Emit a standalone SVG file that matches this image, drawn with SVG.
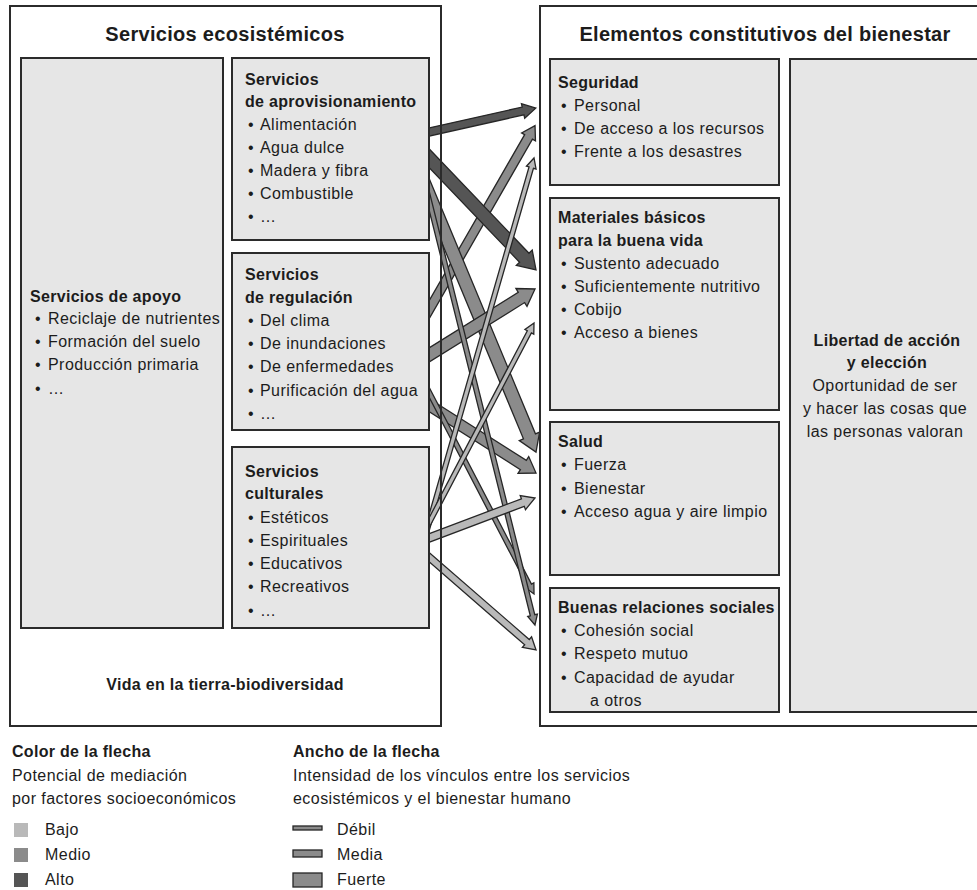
<svg xmlns="http://www.w3.org/2000/svg" width="977" height="890" viewBox="0 0 977 890">
  <style>
    text { font-family: "Liberation Sans", Arial, sans-serif; font-size: 16px; fill: #1c1c1c; letter-spacing: 0.45px; }
    .b { font-weight: bold; letter-spacing: 0.3px; }
    .title { font-size: 20px; font-weight: bold; text-anchor: middle; letter-spacing: 0.3px; }
    .mid { text-anchor: middle; }
    .outer { fill: none; stroke: #2b2b2b; stroke-width: 2; }
    .inner { fill: #e6e6e6; stroke: #2b2b2b; stroke-width: 2; }
    .arrow { stroke: #262626; stroke-width: 1.3; stroke-linejoin: miter; }
    .low { fill: #b9b9b9; }
    .medium { fill: #8b8b8b; }
    .high { fill: #555555; }
  </style>
  <rect width="977" height="890" fill="#ffffff"/>

  <!-- links: colour = socio-economic mediation, width = intensity -->
  <g id="connectors">
    <path id="reg-seg" class="arrow medium" d="M-25,-4.5H199.7V-8L212.7,0L199.7,8V4.5H-25Z" transform="translate(429 310) rotate(-60.1)"/>
    <path id="prov-salud" class="arrow medium" d="M-25,-6.5H261.4V-11L278.4,0L261.4,11V6.5H-25Z" transform="translate(429 195) rotate(67.4)"/>
    <path id="reg-mat" class="arrow medium" d="M-25,-6H108.9V-10.5L124.9,0L108.9,10.5V6H-25Z" transform="translate(429 355) rotate(-31.9)"/>
    <path id="reg-salud" class="arrow medium" d="M-25,-5.5H111.8V-10L126.8,0L111.8,10V5.5H-25Z" transform="translate(429 405) rotate(32.44)"/>
    <path id="reg-rel" class="arrow medium" d="M-25,-2.3H217.7V-5L227.7,0L217.7,5V2.3H-25Z" transform="translate(429 392) rotate(62.53)"/>
    <path id="prov-rel" class="arrow medium" d="M-25,-2.3H428V-5L438,0L428,5V2.3H-25Z" transform="translate(429 200) rotate(76)"/>
    <path id="prov-seg" class="arrow high" d="M-25,-4H96.4V-7.5L109.4,0L96.4,7.5V4H-25Z" transform="translate(429 132) rotate(-12.6)"/>
    <path id="prov-mat" class="arrow high" d="M-25,-6.5H137.9V-11L154.9,0L137.9,11V6.5H-25Z" transform="translate(429 158) rotate(46.3)"/>
    <path id="cult-seg" class="arrow low" d="M-25,-2.3H369.8V-5L379.8,0L369.8,5V2.3H-25Z" transform="translate(429 523) rotate(-73.95)"/>
    <path id="cult-mat" class="arrow low" d="M-25,-2.3H215.9V-5L225.9,0L215.9,5V2.3H-25Z" transform="translate(429 523) rotate(-62.3)"/>
    <path id="cult-salud" class="arrow low" d="M-25,-4H100.3V-7.5L113.3,0L100.3,7.5V4H-25Z" transform="translate(429 538) rotate(-20.67)"/>
    <path id="cult-rel" class="arrow low" d="M-25,-3.5H129.8V-7L141.8,0L129.8,7V3.5H-25Z" transform="translate(429 557) rotate(40.99)"/>
  </g>

  <!-- ecosystem services -->
  <g id="apoyo">
    <rect class="inner" x="21" y="58" width="202" height="570"/>
    <text class="b" x="30" y="302">Servicios de apoyo</text>
    <text y="324"><tspan x="35">•</tspan><tspan x="48">Reciclaje de nutrientes</tspan></text>
    <text y="347"><tspan x="35">•</tspan><tspan x="48">Formación del suelo</tspan></text>
    <text y="370"><tspan x="35">•</tspan><tspan x="48">Producción primaria</tspan></text>
    <text y="394"><tspan x="35">•</tspan><tspan x="48">…</tspan></text>
  </g>
  <g id="aprovisionamiento">
    <rect class="inner" x="232" y="58" width="197" height="182"/>
    <text class="b" x="245" y="85">Servicios</text>
    <text class="b" x="245" y="107">de aprovisionamiento</text>
    <text y="130"><tspan x="248">•</tspan><tspan x="260">Alimentación</tspan></text>
    <text y="153"><tspan x="248">•</tspan><tspan x="260">Agua dulce</tspan></text>
    <text y="176"><tspan x="248">•</tspan><tspan x="260">Madera y fibra</tspan></text>
    <text y="199"><tspan x="248">•</tspan><tspan x="260">Combustible</tspan></text>
    <text y="222"><tspan x="248">•</tspan><tspan x="260">…</tspan></text>
  </g>
  <g id="regulacion">
    <rect class="inner" x="232" y="253" width="197" height="177"/>
    <text class="b" x="245" y="280">Servicios</text>
    <text class="b" x="245" y="303">de regulación</text>
    <text y="326"><tspan x="248">•</tspan><tspan x="260">Del clima</tspan></text>
    <text y="349"><tspan x="248">•</tspan><tspan x="260">De inundaciones</tspan></text>
    <text y="372"><tspan x="248">•</tspan><tspan x="260">De enfermedades</tspan></text>
    <text y="396"><tspan x="248">•</tspan><tspan x="260">Purificación del agua</tspan></text>
    <text y="419"><tspan x="248">•</tspan><tspan x="260">…</tspan></text>
  </g>
  <g id="culturales">
    <rect class="inner" x="232" y="447" width="197" height="181"/>
    <text class="b" x="245" y="477">Servicios</text>
    <text class="b" x="245" y="499">culturales</text>
    <text y="523"><tspan x="248">•</tspan><tspan x="260">Estéticos</tspan></text>
    <text y="546"><tspan x="248">•</tspan><tspan x="260">Espirituales</tspan></text>
    <text y="569"><tspan x="248">•</tspan><tspan x="260">Educativos</tspan></text>
    <text y="592"><tspan x="248">•</tspan><tspan x="260">Recreativos</tspan></text>
    <text y="616"><tspan x="248">•</tspan><tspan x="260">…</tspan></text>
  </g>
  <g id="servicios-ecosistemicos">
    <rect class="outer" x="10" y="6" width="431" height="720"/>
    <text class="title" x="225" y="41">Servicios ecosistémicos</text>
    <text class="b mid" x="225" y="690">Vida en la tierra-biodiversidad</text>
  </g>

  <!-- constituents of well-being -->
  <g id="seguridad">
    <rect class="inner" x="550" y="59" width="229" height="126"/>
    <text class="b" x="558" y="88">Seguridad</text>
    <text y="111"><tspan x="561">•</tspan><tspan x="574">Personal</tspan></text>
    <text y="134"><tspan x="561">•</tspan><tspan x="574">De acceso a los recursos</tspan></text>
    <text y="157"><tspan x="561">•</tspan><tspan x="574">Frente a los desastres</tspan></text>
  </g>
  <g id="materiales">
    <rect class="inner" x="550" y="198" width="229" height="212"/>
    <text class="b" x="558" y="223">Materiales básicos</text>
    <text class="b" x="558" y="246">para la buena vida</text>
    <text y="269"><tspan x="561">•</tspan><tspan x="574">Sustento adecuado</tspan></text>
    <text y="292"><tspan x="561">•</tspan><tspan x="574">Suficientemente nutritivo</tspan></text>
    <text y="315"><tspan x="561">•</tspan><tspan x="574">Cobijo</tspan></text>
    <text y="338"><tspan x="561">•</tspan><tspan x="574">Acceso a bienes</tspan></text>
  </g>
  <g id="salud">
    <rect class="inner" x="550" y="422" width="229" height="153"/>
    <text class="b" x="558" y="447">Salud</text>
    <text y="470"><tspan x="561">•</tspan><tspan x="574">Fuerza</tspan></text>
    <text y="494"><tspan x="561">•</tspan><tspan x="574">Bienestar</tspan></text>
    <text y="517"><tspan x="561">•</tspan><tspan x="574">Acceso agua y aire limpio</tspan></text>
  </g>
  <g id="relaciones">
    <rect class="inner" x="550" y="588" width="229" height="124"/>
    <text class="b" x="558" y="613">Buenas relaciones sociales</text>
    <text y="636"><tspan x="561">•</tspan><tspan x="574">Cohesión social</tspan></text>
    <text y="659"><tspan x="561">•</tspan><tspan x="574">Respeto mutuo</tspan></text>
    <text y="683"><tspan x="561">•</tspan><tspan x="574">Capacidad de ayudar</tspan></text>
    <text x="590" y="706">a otros</text>
  </g>
  <g id="libertad">
    <rect class="inner" x="790" y="59" width="200" height="653"/>
    <text class="b mid" x="887" y="346">Libertad de acción</text>
    <text class="b mid" x="887" y="368">y elección</text>
    <text class="mid" x="885" y="391">Oportunidad de ser</text>
    <text class="mid" x="885" y="414">y hacer las cosas que</text>
    <text class="mid" x="885" y="437">las personas valoran</text>
  </g>
  <g id="bienestar">
    <rect class="outer" x="540" y="6" width="450" height="720"/>
    <text class="title" x="765" y="41">Elementos constitutivos del bienestar</text>
  </g>

  <!-- legend: arrow colour -->
  <g id="leyenda-color">
    <text class="b" x="12" y="757">Color de la flecha</text>
    <text x="12" y="781">Potencial de mediación</text>
    <text x="12" y="804">por factores socioeconómicos</text>
    <rect class="low" x="14" y="823" width="14" height="14"/>
    <rect class="medium" x="14" y="848" width="14" height="14"/>
    <rect class="high" x="14" y="873" width="14" height="14"/>
    <text x="45" y="835">Bajo</text>
    <text x="45" y="860">Medio</text>
    <text x="45" y="885">Alto</text>
  </g>

  <!-- legend: arrow width -->
  <g id="leyenda-ancho">
    <text class="b" x="293" y="757">Ancho de la flecha</text>
    <text x="293" y="781">Intensidad de los vínculos entre los servicios</text>
    <text x="293" y="804">ecosistémicos y el bienestar humano</text>
    <rect class="arrow medium" x="293" y="826" width="29" height="4"/>
    <rect class="arrow medium" x="293" y="850" width="29" height="7"/>
    <rect class="arrow medium" x="293" y="873" width="29" height="14"/>
    <text x="337" y="835">Débil</text>
    <text x="337" y="860">Media</text>
    <text x="337" y="885">Fuerte</text>
  </g>
</svg>
